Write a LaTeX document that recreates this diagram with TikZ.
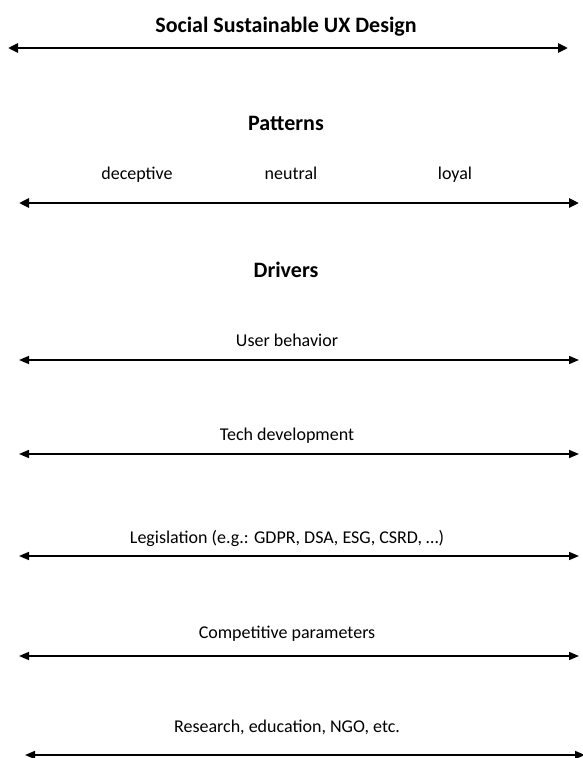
\documentclass[tikz,border=0pt]{standalone}
\usepackage{fontspec}
\setmainfont{Carlito}
\usetikzlibrary{arrows.meta}

\tikzset{
  heading/.style={font={\fontsize{22}{22}\selectfont\bfseries}, inner sep=0pt, anchor=base},
  label/.style={font={\fontsize{18}{18}\selectfont}, inner sep=0pt, anchor=base},
  bigspan/.style={line width=2.8pt, {Triangle[length=10pt,width=9pt]}-{Triangle[length=10pt,width=9pt]}},
  span/.style={line width=1.6pt, {Triangle[length=10pt,width=8pt]}-{Triangle[length=10pt,width=8pt]}}
}

\begin{document}
\begin{tikzpicture}[x=1pt, y=-1pt]

\useasboundingbox (0,0) rectangle (582,758);

\node [heading] (title) at (286, 32) {Social Sustainable UX Design};

\coordinate (title-l) at (8, 48);
\coordinate (title-r) at (568, 48);
\draw [bigspan] (title-l) -- (title-r);


\node [heading] (patterns) at (286, 130) {Patterns};

\node [label] (deceptive) at (137, 179) {deceptive};
\node [label] (neutral) at (291, 179) {neutral};
\node [label] (loyal) at (455, 179) {loyal};

\coordinate (patterns-l) at (19, 203);
\coordinate (patterns-r) at (579, 203);
\draw [bigspan] (patterns-l) -- (patterns-r);


\node [heading] (drivers) at (286, 277) {Drivers};

\node [label] (user) at (287, 346) {User behavior};
\coordinate (user-l) at (19, 360);
\coordinate (user-r) at (579, 360);
\draw [span] (user-l) -- (user-r);

\node [label] (tech) at (287, 440) {Tech development};
\coordinate (tech-l) at (19, 454);
\coordinate (tech-r) at (579, 454);
\draw [span] (tech-l) -- (tech-r);

\node [label] (legis) at (287, 543) {Legislation (e.g.: GDPR, DSA, ESG, CSRD, \dots)};
\coordinate (legis-l) at (19, 556);
\coordinate (legis-r) at (579, 556);
\draw [span] (legis-l) -- (legis-r);

\node [label] (compet) at (287, 638) {Competitive parameters};
\coordinate (compet-l) at (19, 656);
\coordinate (compet-r) at (579, 656);
\draw [span] (compet-l) -- (compet-r);

\node [label] (research) at (287, 732) {Research, education, NGO, etc.};
\coordinate (research-l) at (25, 755);
\coordinate (research-r) at (585, 755);
\draw [span] (research-l) -- (research-r);

\end{tikzpicture}
\end{document}
